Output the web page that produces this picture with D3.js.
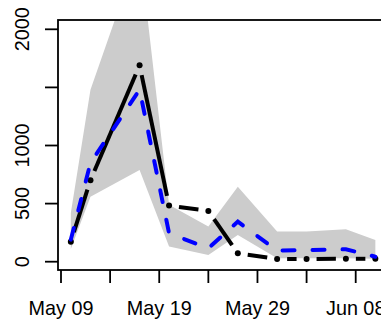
<!DOCTYPE html>
<html lang="en">
<head>
  <meta charset="utf-8">
  <script src="https://d3js.org/d3.v7.min.js"></script>
  <style>
    body { margin: 0; background: #fff; }
    text { font-family: "Liberation Sans", Arial, sans-serif; font-size: 19.8px; fill: #000; }
  </style>
</head>
<body>
<svg width="381" height="324"></svg>

<script>
  // values
  var dates = ["2020-05-10", "2020-05-12", "2020-05-17", "2020-05-20", "2020-05-24",
               "2020-05-27", "2020-05-31", "2020-06-03", "2020-06-07", "2020-06-10"];
  var observed = [172, 702, 1690, 483, 437, 72, 23, 23, 25, 25];
  var predicted = [190, 850, 1480, 245, 115, 345, 95, 100, 107, 43];
  var upper = [420, 1480, 2690, 490, 302, 646, 259, 259, 279, 187];
  var lower = [110, 560, 790, 130, 58, 230, 29, 29, 29, 25];

  var xTicks = ["2020-05-09", "2020-05-14", "2020-05-19", "2020-05-24", "2020-05-29", "2020-06-03", "2020-06-08"];
  var xLabels = ["2020-05-09", "2020-05-19", "2020-05-29", "2020-06-08"];
  var yTicks = [0, 500, 1000, 1500, 2000];
  var yLabels = [0, 500, 1000, 2000];

  var svg = d3.select("svg"),
      box = {left: 58, right: 387, top: 20, bottom: 270};

  var parse = d3.utcParse("%Y-%m-%d");
  var fmt = d3.utcFormat("%b %d");

  var x = d3.scaleUtc()
      .domain([parse("2020-05-09"), parse("2020-06-08")])
      .range([61, 355.7]);
  var y = d3.scaleLinear()
      .domain([0, 2000])
      .range([261.7, 29.3]);

  var data = dates.map(function(d, i) {
    return {date: parse(d), obs: observed[i], pred: predicted[i], hi: upper[i], lo: lower[i]};
  });

  svg.append("clipPath").attr("id", "plotclip")
    .append("rect")
      .attr("x", box.left).attr("y", box.top)
      .attr("width", box.right - box.left).attr("height", box.bottom - box.top);

  var plot = svg.append("g").attr("clip-path", "url(#plotclip)");

  // interval band
  var band = d3.area()
      .x(function(d) { return x(d.date); })
      .y0(function(d) { return y(d.lo); })
      .y1(function(d) { return y(d.hi); });

  plot.append("path")
      .datum(data)
      .attr("d", band)
      .attr("fill", "#cccccc");

  // observed: R type="b", segments with gaps round the points
  var gap = 10;
  for (var i = 0; i < data.length - 1; i++) {
    var x0 = x(data[i].date), y0 = y(data[i].obs),
        x1 = x(data[i + 1].date), y1 = y(data[i + 1].obs);
    var len = Math.sqrt((x1 - x0) * (x1 - x0) + (y1 - y0) * (y1 - y0));
    if (len <= 2 * gap) continue;
    var ux = (x1 - x0) / len, uy = (y1 - y0) / len;
    plot.append("line")
        .attr("x1", x0 + ux * gap).attr("y1", y0 + uy * gap)
        .attr("x2", x1 - ux * gap).attr("y2", y1 - uy * gap)
        .attr("stroke", "#000")
        .attr("stroke-width", 4);
  }

  plot.selectAll(".pt")
      .data(data)
      .enter().append("circle")
      .attr("class", "pt")
      .attr("cx", function(d) { return x(d.date); })
      .attr("cy", function(d) { return y(d.obs); })
      .attr("r", 3)
      .attr("fill", "#000");

  // predicted, dashed blue
  var predLine = d3.line()
      .x(function(d) { return x(d.date); })
      .y(function(d) { return y(d.pred); });

  plot.append("path")
      .datum(data)
      .attr("d", predLine)
      .attr("fill", "none")
      .attr("stroke", "#0000ff")
      .attr("stroke-width", 4)
      .attr("stroke-linecap", "round")
      .attr("stroke-dasharray", "12 18");

  // box
  svg.append("rect")
      .attr("x", box.left).attr("y", box.top)
      .attr("width", box.right - box.left).attr("height", box.bottom - box.top)
      .attr("fill", "none")
      .attr("stroke", "#000")
      .attr("stroke-width", 1.8);

  // x axis
  svg.selectAll(".xtick")
      .data(xTicks)
      .enter().append("line")
      .attr("x1", function(d) { return x(parse(d)); })
      .attr("x2", function(d) { return x(parse(d)); })
      .attr("y1", box.bottom).attr("y2", box.bottom + 13)
      .attr("stroke", "#000").attr("stroke-width", 1.8);

  svg.selectAll(".xlab")
      .data(xLabels)
      .enter().append("text")
      .attr("x", function(d) { return x(parse(d)); })
      .attr("y", 314.5)
      .attr("text-anchor", "middle")
      .text(function(d) { return fmt(parse(d)); });

  // y axis
  svg.selectAll(".ytick")
      .data(yTicks)
      .enter().append("line")
      .attr("x1", box.left - 13).attr("x2", box.left)
      .attr("y1", function(d) { return y(d); })
      .attr("y2", function(d) { return y(d); })
      .attr("stroke", "#000").attr("stroke-width", 1.8);

  svg.selectAll(".ylab")
      .data(yLabels)
      .enter().append("text")
      .attr("transform", function(d) { return "translate(28.5," + y(d) + ") rotate(-90)"; })
      .attr("text-anchor", "middle")
      .text(function(d) { return d; });
</script>
</body>
</html>
